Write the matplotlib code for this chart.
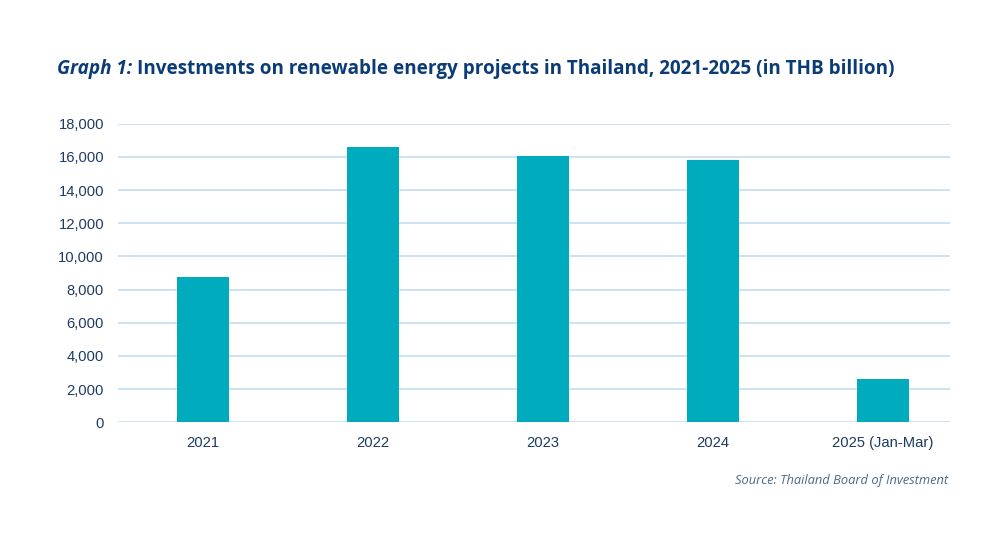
import matplotlib
matplotlib.use("Agg")
import matplotlib.pyplot as plt

categories = ["2021", "2022", "2023", "2024", "2025 (Jan-Mar)"]
values = [8780, 16610, 16070, 15790, 2630]
yticks = [0, 2000, 4000, 6000, 8000, 10000, 12000, 14000, 16000, 18000]

fig = plt.figure(figsize=(10, 5.33), dpi=100)
ax = fig.add_axes([0.118, 0.2077, 0.832, 0.5602])

bar_color = "#00abbd"
grid_color = "#c8e0f0"
text_color = "#1d3b63"

ax.bar(range(len(categories)), values, width=0.31, color=bar_color, zorder=3)
ax.set_xlim(-0.5, 4.394)
ax.set_ylim(0, 18000)
ax.set_yticks(yticks)
ax.set_yticklabels([f"{v:,}" for v in yticks], fontfamily="Liberation Sans", fontsize=10.6, color=text_color)
ax.set_xticks(range(len(categories)))
ax.set_xticklabels(categories, fontfamily="Liberation Sans", fontsize=10.6, color=text_color)
ax.tick_params(axis="both", length=0)
ax.tick_params(axis="y", pad=10)
ax.tick_params(axis="x", pad=10)
ax.yaxis.grid(True, color=grid_color, linewidth=1.3, zorder=0)
ax.set_axisbelow(True)
for s in ax.spines.values():
    s.set_visible(False)

title_color = "#0b3c76"
t1 = fig.text(0.057, 0.862, "Graph 1:", fontfamily="Open Sans", fontsize=13.6,
              fontweight="bold", fontstyle="italic", color=title_color, va="baseline")
fig.canvas.draw()
bb = t1.get_window_extent()
x2 = bb.x1 / fig.bbox.width + 0.005
fig.text(x2, 0.862, "Investments on renewable energy projects in Thailand, 2021-2025 (in THB billion)",
         fontfamily="Open Sans", fontsize=13.6, fontweight="bold", color=title_color, va="baseline")

fig.text(0.948, 0.092, "Source: Thailand Board of Investment", fontfamily="Open Sans",
         fontsize=9.3, fontstyle="italic", color="#4d6a8c", ha="right", va="baseline")

fig.savefig("out.png", dpi=100)
